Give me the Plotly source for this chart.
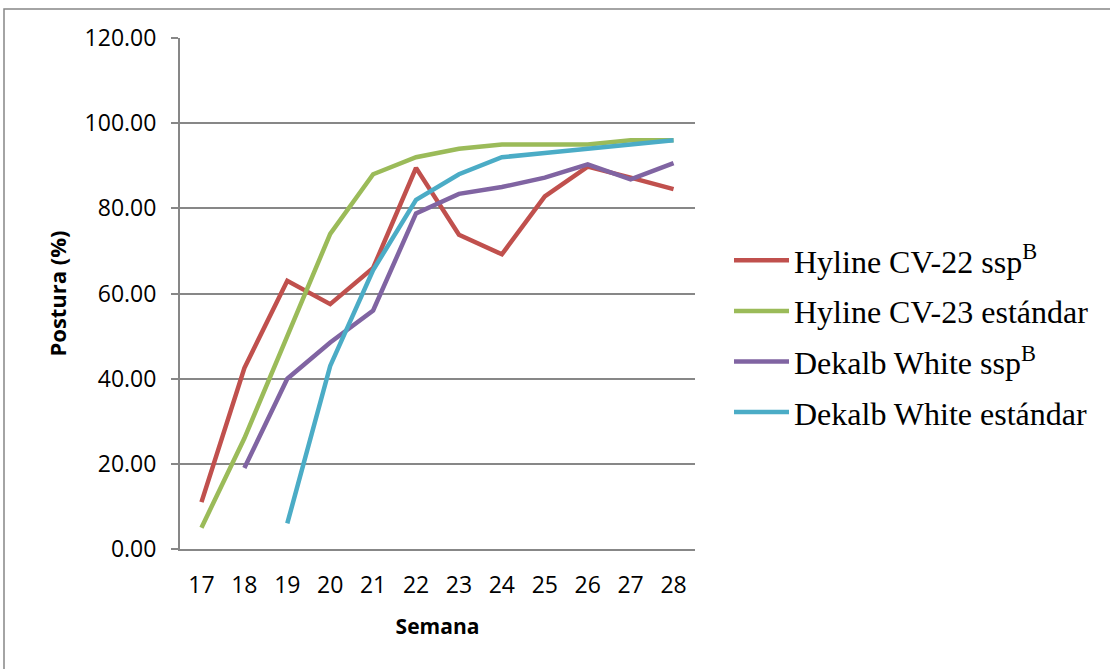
import plotly.graph_objects as go

weeks = [17, 18, 19, 20, 21, 22, 23, 24, 25, 26, 27, 28]
hyline_ssp = [11.0, 42.5, 63.0, 57.5, 66.0, 89.5, 73.8, 69.2, 82.8, 89.8, 87.2, 84.5]
hyline_std = [5.0, 26.0, 50.0, 74.0, 88.0, 92.0, 94.0, 95.0, 95.0, 95.0, 96.0, 96.0]
dekalb_ssp = [None, 19.0, 40.0, 48.5, 56.0, 78.8, 83.4, 85.0, 87.2, 90.3, 86.8, 90.6]
dekalb_std = [None, None, 6.0, 43.0, 65.5, 82.0, 88.0, 92.0, 93.0, 94.0, 95.0, 96.0]

names = ["Hyline CV-22 ssp<sup>B</sup>", "Hyline CV-23 estándar",
         "Dekalb White ssp<sup>B</sup>", "Dekalb White estándar"]
series = [hyline_ssp, hyline_std, dekalb_ssp, dekalb_std]
colors = ["#C0504D", "#9BBB59", "#8064A2", "#4BACC6"]

fig = go.Figure()
for i, (n, s, c) in enumerate(zip(names, series, colors)):
    fig.add_trace(go.Scatter(x=weeks, y=s, name=n, mode="lines",
                             line=dict(color=c, width=4.5),
                             legendgroup=f"g{i}"))

L, R, T, B = 180, 695, 38, 549
W, H = 1110, 669
pw, ph = R - L, B - T

def px(x):
    return (x - L) / pw

def py(y):
    return (B - y) / ph

fig.add_shape(type="rect", xref="paper", yref="paper",
              x0=px(4), x1=px(1140), y0=py(700), y1=py(9),
              line=dict(color="#878787", width=1.5), fillcolor="rgba(0,0,0,0)")

fig.update_layout(
    width=W, height=H,
    margin=dict(l=L, r=W - R, t=T, b=H - B, autoexpand=False),
    paper_bgcolor="white", plot_bgcolor="white",
    showlegend=True,
    legend=dict(x=px(729), y=py(233), xanchor="left", yanchor="top",
                font=dict(family="Liberation Serif", size=32, color="black"),
                traceorder="grouped", tracegroupgap=6, itemwidth=55,
                bgcolor="rgba(0,0,0,0)"),
    xaxis=dict(range=[16.5, 28.5], tickmode="array", tickvals=weeks,
               ticktext=[str(w) for w in weeks], showgrid=False,
               showline=True, linecolor="#878787", linewidth=2,
               ticks="", tickfont=dict(family="Open Sans", size=23, color="black"),
               ticklabelstandoff=14,
               title=dict(text="<b>Semana</b>", font=dict(family="Open Sans", size=21, color="black"),
                          standoff=21)),
    yaxis=dict(range=[0, 120], tickmode="array", tickvals=[0, 20, 40, 60, 80, 100, 120],
               tickformat=".2f", showgrid=True, gridcolor="#878787", gridwidth=2,
               showline=True, linecolor="#878787", linewidth=2,
               ticks="outside", ticklen=7, tickcolor="#878787", tickwidth=2,
               tickfont=dict(family="Open Sans", size=23, color="black"),
               ticklabelstandoff=10, zeroline=False,
               title=dict(text="<b>Postura (%)</b>", font=dict(family="Open Sans", size=22, color="black"),
                          standoff=12)),
)

fig.write_html("out.html", config={"displayModeBar": False},
               post_script="document.body.style.margin='0';")
